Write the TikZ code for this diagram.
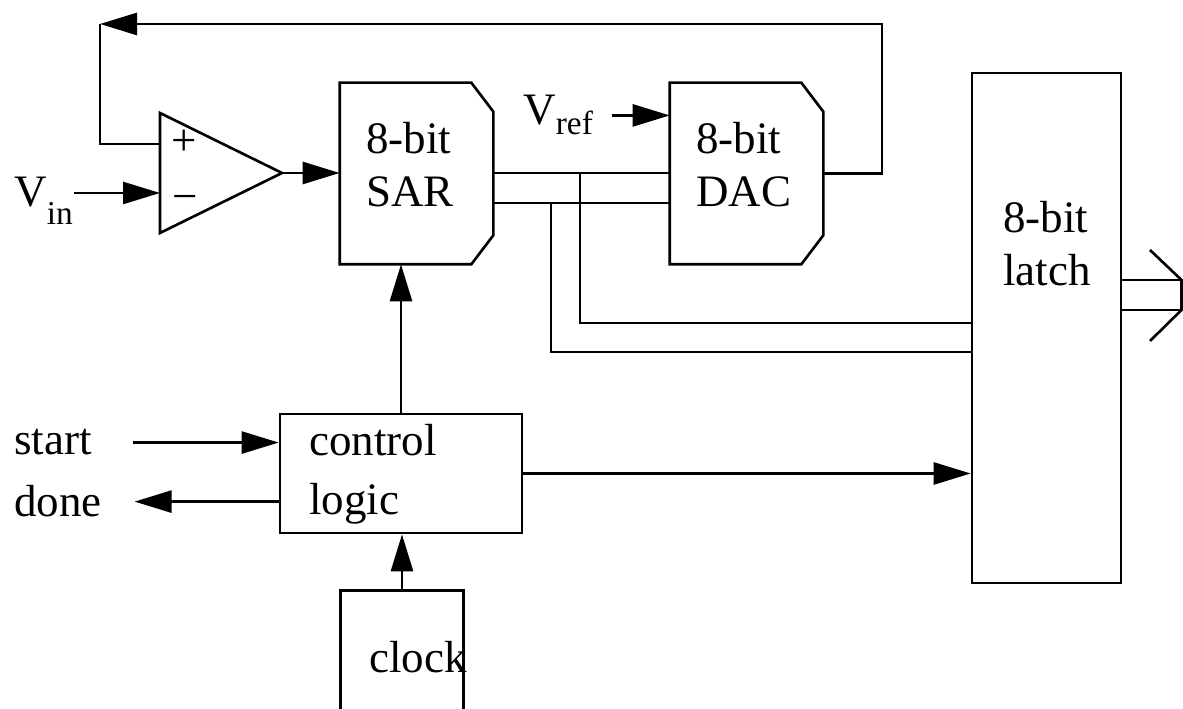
\documentclass[tikz,border=0pt]{standalone}
\usepackage{fontspec}
\setmainfont{Liberation Serif}
\usetikzlibrary{arrows.meta}

% lowered, smaller index text (V_in, V_ref)
\newcommand\lowsub[2]{\raisebox{#1}{\fontsize{19}{19}\selectfont #2}}
% outline of a register block with both right corners cut off
\newcommand\chamfbox[1]{%
  \draw (#1.north west) -- ([xshift=-4.4mm]#1.north east) -- ([yshift=-5.8mm]#1.north east)
    -- ([yshift=5.8mm]#1.south east) -- ([xshift=-4.4mm]#1.south east) -- (#1.south west) -- cycle;}

\begin{document}
\begin{tikzpicture}[>={Triangle[length=7.4mm,width=4.4mm]},line width=1.5pt,
  every node/.style={font=\fontsize{25.6}{30.7}\selectfont},
  blk/.style={minimum width=3.02cm,minimum height=3.58cm,inner sep=0},
  txt/.style={anchor=base west,inner sep=0,align=left}]
\useasboundingbox (0,0) rectangle (23.66,14.18);

% comparator
\coordinate (cmpa) at (3.2,11.92);
\coordinate (cmpb) at (3.2,9.52);
\coordinate (cmpo) at (5.64,10.72);
\coordinate (cmpp) at (3.2,11.3);
\coordinate (cmpm) at (3.2,10.32);
\draw (cmpa) -- (cmpo) -- (cmpb) -- cycle;
\node[inner sep=0] (plus) at (3.68,11.32) {+};
\node[inner sep=0] (minus) at (3.70,10.12) {−};

\path
(8.33,10.71)  node[blk] (sar) {}
(14.93,10.71) node[blk] (dac) {}
(20.93,7.62)  node[draw,minimum width=2.98cm,minimum height=10.2cm,inner sep=0] (latch) {}
(8.02,4.71)   node[draw,minimum width=4.84cm,minimum height=2.38cm,inner sep=0] (ctl) {}
(8.04,1.17)   node[minimum width=2.4cm,minimum height=2.34cm,inner sep=0] (clk) {};
\chamfbox{sar}
\chamfbox{dac}
\draw (clk.south west) |- (clk.north) -| (clk.south east);

% block texts (base = last line)
\path
(7.30,10.04)  node[txt] (sartxt) {8-bit\\SAR}
(13.90,10.04) node[txt] (dactxt) {8-bit\\DAC}
(20.04,8.46)  node[txt] (latchtxt) {8-bit\\latch}
(6.16,3.88)   node[txt,font=\fontsize{25.6}{34}\selectfont] (ctltxt) {control\\logic}
(7.36,0.72)   node[txt] (clktxt) {clock}
(0.26,5.08)   node[txt] (start) {start}
(0.26,3.84)   node[txt] (done) {done}
(0.26,10.04)  node[txt] (vin) {V\lowsub{-0.36cm}{in}}
(10.44,11.68) node[txt] (vref) {V\lowsub{-0.2cm}{ref}};

% inputs and outputs of the comparator
\draw[->] (vin.east |- cmpm) -- (cmpm);
\draw[->] (cmpo) -- (sar.west |- cmpo);
\coordinate (fbl) at (2.0,13.7);
\coordinate (fbr) at (17.64,13.7);
\draw[->] (dac.east) -| (fbr) -- (fbl);
\draw (fbl) |- (cmpp);
\draw[->] ([xshift=0.36cm]vref.east) -- (vref.east -| dac.west);

% SAR -> DAC bus, tapped off to the latch
\coordinate (tapa) at (11.6,10.72);
\coordinate (tapb) at (11.02,10.12);
\draw (sar.east |- tapa) -- (dac.west |- tapa);
\draw (sar.east |- tapb) -- (dac.west |- tapb);
\draw (tapa) |- ([yshift=0.1cm]latch.west);
\draw (tapb) |- ([yshift=-0.48cm]latch.west);

% control signals
\draw[->] (ctl.north) -- (ctl.north |- sar.south);
\draw[->] (clk.north) -- (clk.north |- ctl.south);
\draw[->] ([xshift=0.8cm]start.east) -- (ctl.west |- start.east);
\draw[->] (ctl.west |- done.east) -- ([xshift=0.63cm]done.east);
\draw[->] (ctl.east) -- (ctl.east -| latch.west);

% latch output bus
\coordinate (outa) at (23.63,8.58);
\coordinate (outb) at (23.63,7.98);
\draw (latch.east |- outa) -- (outa);
\draw (latch.east |- outb) -- (outb);
\draw (23.0,9.18) -- (outa) -- (outb) -- (23.0,7.36);
\end{tikzpicture}
\end{document}
